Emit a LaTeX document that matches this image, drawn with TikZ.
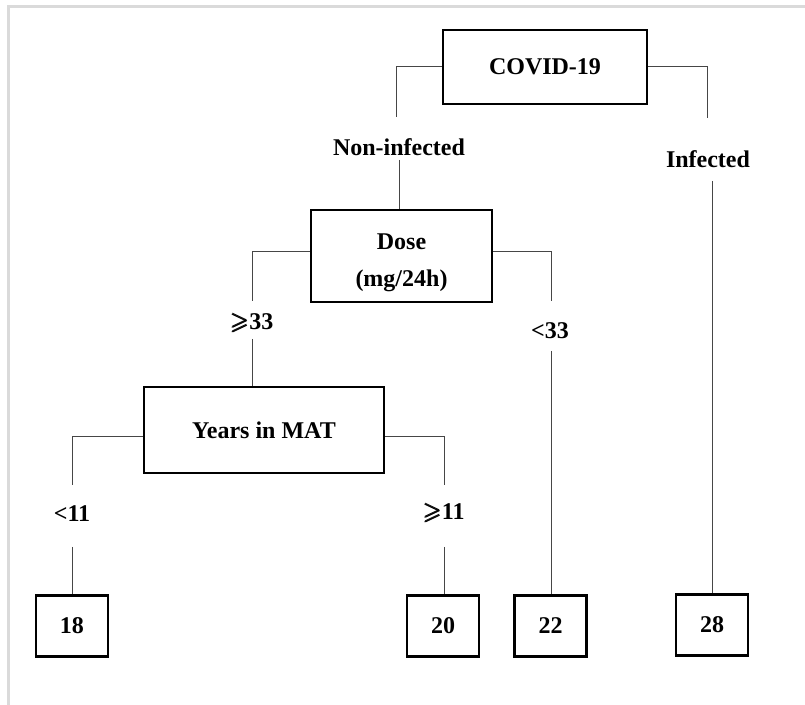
\documentclass[tikz,border=0pt]{standalone}
\usepackage{amsmath, amssymb}
\usepackage{fontspec}
\setmainfont{Liberation Serif}
\usepackage{tikz}
\usetikzlibrary{positioning, calc}
\definecolor{framegray}{RGB}{218, 218, 218}
\definecolor{linkgray}{RGB}{70, 70, 70}
\newcommand{\geqsl}{$\pmb{\geqslant}$}

\begin{document}
\begin{tikzpicture}[
    x=0.5pt, y=-0.5pt,
    font=\bfseries\fontsize{12}{14.5}\selectfont,
    box/.style={draw, line width=1.25pt, align=center, inner sep=0pt},
    leaf/.style={box, minimum width=36pt, minimum height=30.5pt},
    branch/.style={inner sep=1pt},
    link/.style={linkgray, line width=0.5pt}
]
    \useasboundingbox (0,0) rectangle (805,705);

    % Frame
    \draw[framegray, line width=1.5pt] (8,705) -- (8,7) -- (805,7);

    % Top box
    \node[box, minimum width=102pt, minimum height=37pt] (covid) at (545,67) {COVID-19};
    \node[branch] (noninf) at (399,147) {Non-infected};
    \node[branch] (inf) at (708,159) {Infected};
    \coordinate (noninfa) at (396,117);
    \coordinate (infa) at (707,118);
    \coordinate (noninfb) at (399,160);
    \coordinate (infb) at (712,181);
    \draw[link] (covid.west) -| (noninfa);
    \draw[link] (covid.east) -| (infa);

    % Dose box
    \node[box, minimum width=90.5pt, minimum height=46pt] (dose) at (401.5,256) {\rule{0pt}{14.5pt}Dose\\[4pt](mg/24h)};
    \draw[link] (noninfb) -- (noninfb |- dose.north);
    \node[branch] (geq33) at (252,323) {\geqsl33};
    \node[branch] (lt33) at (550,331) {<33};
    \coordinate (geq33a) at (252,301);
    \coordinate (lt33a) at (551,301);
    \coordinate (geq33b) at (252,339);
    \coordinate (lt33b) at (551,351);
    \draw[link] (dose.west |- 0,252) -| (geq33a);
    \draw[link] (dose.east |- 0,252) -| (lt33a);

    % Years box
    \node[box, minimum width=120pt, minimum height=43pt] (years) at (264,430) {Years in MAT};
    \draw[link] (geq33b) -- (geq33b |- years.north);
    \node[branch] (lt11) at (72,514) {<11};
    \node[branch] (geq11) at (444,513) {\geqsl11};
    \coordinate (lt11a) at (72,485);
    \coordinate (geq11a) at (444,485);
    \coordinate (lt11b) at (72,547);
    \coordinate (geq11b) at (444,547);
    \draw[link] (years.west |- 0,437) -| (lt11a);
    \draw[link] (years.east |- 0,437) -| (geq11a);

    % Leaves
    \node[leaf] (n18) at (72,626) {18};
    \node[leaf] (n20) at (443,626) {20};
    \node[leaf] (n22) at (550.5,626) {22};
    \node[leaf] (n28) at (712,625) {28};
    \draw[link] (lt11b) -- (lt11b |- n18.north);
    \draw[link] (geq11b) -- (geq11b |- n20.north);
    \draw[link] (lt33b) -- (lt33b |- n22.north);
    \draw[link] (infb) -- (infb |- n28.north);

\end{tikzpicture}
\end{document}
